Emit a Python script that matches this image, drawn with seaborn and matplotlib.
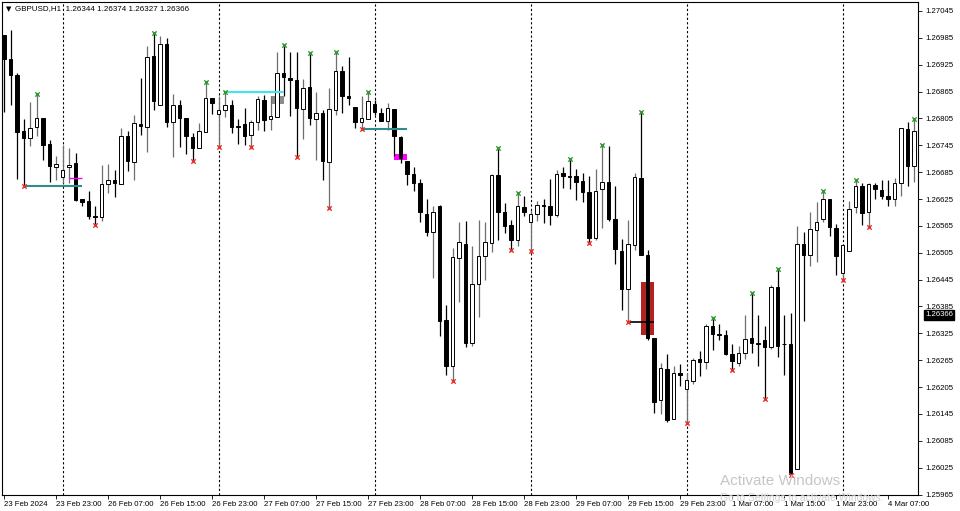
import numpy as np
import pandas as pd
import matplotlib.pyplot as plt
import seaborn as sns

# GBPUSD H1 candles (bar 0 = 23 Feb 15:00)
opens = [
    1.26991, 1.26937, 1.26902, 1.26776, 1.26762, 1.26786, 1.26807, 1.26748, 1.26696, 1.26675,
    1.26696, 1.26705, 1.26626, 1.26620, 1.26588, 1.26585, 1.26659, 1.26668, 1.26659, 1.26766,
    1.26707, 1.26793, 1.26785, 1.26945, 1.26835, 1.26971, 1.26798, 1.26835, 1.26806, 1.26763,
    1.26739, 1.26774, 1.26850, 1.26815, 1.26823, 1.26834, 1.26789, 1.26792, 1.26767, 1.26797,
    1.26847, 1.26803, 1.26809, 1.26906, 1.26895, 1.26890, 1.26826, 1.26875, 1.26803, 1.26817,
    1.26707, 1.26824, 1.26912, 1.26854, 1.26830, 1.26797, 1.26804, 1.26838, 1.26817, 1.26800,
    1.26826, 1.26764, 1.26709, 1.26681, 1.26661, 1.26592, 1.26551, 1.26609, 1.26354, 1.26252,
    1.26494, 1.26525, 1.26304, 1.26436, 1.26497, 1.26527, 1.26679, 1.26596, 1.26568, 1.26533,
    1.26607, 1.26573, 1.26592, 1.26612, 1.26609, 1.26590, 1.26683, 1.26676, 1.26676, 1.26666,
    1.26640, 1.26537, 1.26647, 1.26663, 1.26580, 1.26508, 1.26424, 1.26523, 1.26672, 1.26501,
    1.26315, 1.26176, 1.26246, 1.26134, 1.26237, 1.26201, 1.26218, 1.26267, 1.26261, 1.26342,
    1.26324, 1.26322, 1.26280, 1.26259, 1.26282, 1.26315, 1.26304, 1.26311, 1.26295, 1.26428,
    1.26302, 1.26302, 1.26023, 1.26525, 1.26499, 1.26555, 1.26580, 1.26624, 1.26560, 1.26459,
    1.26510, 1.26607, 1.26655, 1.26595, 1.26657, 1.26646, 1.26632, 1.26624, 1.26661, 1.26781,
    1.26698]
highs = [
    1.26991, 1.27003, 1.26907, 1.26804, 1.26842, 1.26860, 1.26807, 1.26756, 1.26720, 1.26746,
    1.26739, 1.26728, 1.26626, 1.26642, 1.26609, 1.26700, 1.26704, 1.26690, 1.26783, 1.26776,
    1.26813, 1.26895, 1.26967, 1.26995, 1.26990, 1.26984, 1.26860, 1.26847, 1.26806, 1.26772,
    1.26795, 1.26886, 1.26850, 1.26856, 1.26864, 1.26846, 1.26803, 1.26828, 1.26802, 1.26855,
    1.26858, 1.26854, 1.26954, 1.26968, 1.26953, 1.26953, 1.26893, 1.26951, 1.26865, 1.26824,
    1.26873, 1.26953, 1.26921, 1.26942, 1.26830, 1.26854, 1.26864, 1.26847, 1.26828, 1.26839,
    1.26826, 1.26765, 1.26709, 1.26696, 1.26670, 1.26624, 1.26609, 1.26612, 1.26389, 1.26516,
    1.26573, 1.26577, 1.26521, 1.26579, 1.26573, 1.26681, 1.26739, 1.26616, 1.26579, 1.26638,
    1.26631, 1.26601, 1.26620, 1.26624, 1.26670, 1.26690, 1.26696, 1.26714, 1.26692, 1.26683,
    1.26677, 1.26692, 1.26746, 1.26744, 1.26653, 1.26536, 1.26579, 1.26683, 1.26820, 1.26512,
    1.26315, 1.26259, 1.26278, 1.26252, 1.26256, 1.26237, 1.26271, 1.26285, 1.26345, 1.26360,
    1.26347, 1.26332, 1.26302, 1.26296, 1.26367, 1.26415, 1.26367, 1.26342, 1.26434, 1.26469,
    1.26365, 1.26371, 1.26564, 1.26551, 1.26597, 1.26618, 1.26644, 1.26625, 1.26570, 1.26522,
    1.26620, 1.26668, 1.26661, 1.26661, 1.26661, 1.26668, 1.26668, 1.26672, 1.26783, 1.26796,
    1.26803]
lows = [
    1.26820, 1.26835, 1.26670, 1.26655, 1.26744, 1.26765, 1.26713, 1.26662, 1.26668, 1.26661,
    1.26661, 1.26620, 1.26609, 1.26580, 1.26568, 1.26575, 1.26638, 1.26629, 1.26659, 1.26688,
    1.26668, 1.26768, 1.26731, 1.26824, 1.26835, 1.26786, 1.26719, 1.26742, 1.26726, 1.26710,
    1.26739, 1.26774, 1.26815, 1.26741, 1.26808, 1.26772, 1.26748, 1.26746, 1.26742, 1.26780,
    1.26778, 1.26780, 1.26809, 1.26854, 1.26811, 1.26718, 1.26759, 1.26791, 1.26713, 1.26668,
    1.26605, 1.26813, 1.26817, 1.26835, 1.26783, 1.26781, 1.26804, 1.26813, 1.26800, 1.26780,
    1.26720, 1.26706, 1.26657, 1.26642, 1.26573, 1.26542, 1.26449, 1.26319, 1.26233, 1.26218,
    1.26395, 1.26295, 1.26296, 1.26362, 1.26445, 1.26506, 1.26534, 1.26549, 1.26512, 1.26519,
    1.26588, 1.26510, 1.26575, 1.26572, 1.26566, 1.26585, 1.26650, 1.26647, 1.26622, 1.26618,
    1.26527, 1.26534, 1.26560, 1.26575, 1.26479, 1.26377, 1.26351, 1.26512, 1.26501, 1.26311,
    1.26148, 1.26144, 1.26127, 1.26134, 1.26207, 1.26124, 1.26212, 1.26229, 1.26246, 1.26287,
    1.26310, 1.26276, 1.26244, 1.26253, 1.26268, 1.26282, 1.26252, 1.26178, 1.26289, 1.26273,
    1.26233, 1.26008, 1.26023, 1.26352, 1.26475, 1.26484, 1.26573, 1.26542, 1.26456, 1.26445,
    1.26510, 1.26594, 1.26566, 1.26562, 1.26624, 1.26624, 1.26610, 1.26609, 1.26631, 1.26655,
    1.26662]
closes = [
    1.26937, 1.26902, 1.26775, 1.26762, 1.26784, 1.26806, 1.26746, 1.26698, 1.26704, 1.26690,
    1.26702, 1.26623, 1.26618, 1.26586, 1.26585, 1.26659, 1.26667, 1.26661, 1.26766, 1.26709,
    1.26795, 1.26787, 1.26942, 1.26843, 1.26971, 1.26798, 1.26834, 1.26806, 1.26765, 1.26739,
    1.26776, 1.26850, 1.26840, 1.26824, 1.26835, 1.26786, 1.26785, 1.26766, 1.26797, 1.26848,
    1.26802, 1.26811, 1.26906, 1.26897, 1.26891, 1.26829, 1.26873, 1.26806, 1.26817, 1.26709,
    1.26826, 1.26912, 1.26856, 1.26850, 1.26797, 1.26806, 1.26844, 1.26820, 1.26800, 1.26828,
    1.26765, 1.26716, 1.26681, 1.26661, 1.26595, 1.26551, 1.26597, 1.26352, 1.26252, 1.26495,
    1.26528, 1.26304, 1.26436, 1.26497, 1.26528, 1.26679, 1.26597, 1.26564, 1.26533, 1.26609,
    1.26595, 1.26592, 1.26612, 1.26609, 1.26590, 1.26681, 1.26677, 1.26674, 1.26664, 1.26640,
    1.26537, 1.26644, 1.26663, 1.26580, 1.26514, 1.26424, 1.26525, 1.26675, 1.26501, 1.26315,
    1.26171, 1.26248, 1.26131, 1.26237, 1.26231, 1.26220, 1.26265, 1.26261, 1.26342, 1.26324,
    1.26322, 1.26280, 1.26263, 1.26282, 1.26313, 1.26304, 1.26302, 1.26295, 1.26428, 1.26296,
    1.26301, 1.26010, 1.26525, 1.26499, 1.26558, 1.26574, 1.26624, 1.26562, 1.26497, 1.26522,
    1.26603, 1.26653, 1.26594, 1.26659, 1.26647, 1.26632, 1.26624, 1.26661, 1.26783, 1.26698,
    1.26776]

# fractal markers (bar numbers)
fractal_up_bars = [5, 23, 31, 34, 43, 47, 51, 56, 76, 79, 87, 92, 98, 109, 115, 119, 126, 131, 140]
fractal_down_bars = [3, 14, 29, 33, 38, 45, 50, 55, 69, 78, 81, 90, 96, 105, 112, 117, 121, 129, 133]

# day separators (00:00 bars) and time axis labels
separator_bars = [9, 33, 57, 81, 105, 129]
time_labels = ['23 Feb 2024', '23 Feb 23:00', '26 Feb 07:00', '26 Feb 15:00', '26 Feb 23:00',
               '27 Feb 07:00', '27 Feb 15:00', '27 Feb 23:00', '28 Feb 07:00', '28 Feb 15:00',
               '28 Feb 23:00', '29 Feb 07:00', '29 Feb 15:00', '29 Feb 23:00', '1 Mar 07:00',
               '1 Mar 15:00', '1 Mar 23:00', '4 Mar 07:00']
price_ticks = [1.27045, 1.26985, 1.26925, 1.26865, 1.26805, 1.26745, 1.26685, 1.26625, 1.26565,
               1.26505, 1.26445, 1.26385, 1.26325, 1.26265, 1.26205, 1.26145, 1.26085, 1.26025,
               1.25965]
last_price = 1.26366

# indicator objects: (first bar, last bar, price) / (first bar, last bar, low, high)
teal_levels = [(3, 12, 1.26655), (55, 62, 1.26781)]
cyan_levels = [(34, 43, 1.26863)]
magenta_levels = [(10, 12, 1.26671)]
black_levels = [(96, 100, 1.26351)]
gray_boxes = [(41, 43, 1.26837, 1.26856)]
magenta_boxes = [(60, 62, 1.26713, 1.26725)]
red_boxes = [(98, 100, 1.26322, 1.26439)]

df = pd.DataFrame({'open': opens, 'high': highs, 'low': lows, 'close': closes})
df['bar'] = np.arange(len(df))
df['bull'] = df['close'] >= df['open']

sns.set_theme(style='white')
plt.rcParams['font.family'] = ['Liberation Sans', 'DejaVu Sans']

fig = plt.figure(figsize=(9.6, 5.11), dpi=100)
ax = fig.add_axes([2 / 960, 16 / 511, 916 / 960, 493 / 511])

# boxes behind the candles
for b0, b1, lo, hi in red_boxes:
    ax.fill_between([b0, b1], lo, hi, color='#b22222', lw=0, zorder=1)
for b0, b1, lo, hi in gray_boxes:
    ax.fill_between([b0, b1], lo, hi, color='#8c8c8c', lw=0, zorder=1)
for b0, b1, lo, hi in magenta_boxes:
    ax.fill_between([b0, b1], lo, hi, color='#ff00ff', lw=0, zorder=1)

for b in separator_bars:
    ax.axvline(b, color='black', lw=0.8, ls=(0, (2, 2)), zorder=0.5)

bull = df[df['bull']]
bear = df[~df['bull']]
ax.vlines(bull['bar'], bull['low'], bull['high'], color='#6e6e6e', lw=0.9, zorder=2)
ax.vlines(bear['bar'], bear['low'], bear['high'], color='black', lw=0.9, zorder=2)
ax.bar(bull['bar'], bull['close'] - bull['open'], bottom=bull['open'], width=0.55,
       color='white', edgecolor='black', linewidth=0.7, zorder=3)
ax.bar(bear['bar'], bear['open'] - bear['close'], bottom=bear['close'], width=0.55,
       color='black', edgecolor='black', linewidth=0.7, zorder=3)

for b0, b1, p in teal_levels:
    ax.hlines(p, b0, b1, color='#2f8c8c', lw=1.5, zorder=4)
for b0, b1, p in cyan_levels:
    ax.hlines(p, b0, b1, color='#3ee6f0', lw=1.5, zorder=4)
for b0, b1, p in magenta_levels:
    ax.hlines(p, b0, b1, color='#ff00ff', lw=1.0, zorder=4)
for b0, b1, p in black_levels:
    ax.hlines(p, b0, b1, color='black', lw=1.2, zorder=4)

ups = df.loc[fractal_up_bars]
downs = df.loc[fractal_down_bars]
sns.scatterplot(x=ups['bar'], y=ups['high'], marker='x', color='#2e9a2e', s=10,
                linewidth=1.0, ax=ax, zorder=5)
sns.scatterplot(x=downs['bar'], y=downs['low'], marker='x', color='#e8302a', s=10,
                linewidth=1.0, ax=ax, zorder=5)

ax.set_xlim(-0.31, 140.6)
ax.set_ylim(1.25964, 1.27065)
ax.set_xlabel('')
ax.set_ylabel('')

ax.set_xticks(list(range(0, 137, 8)))
ax.set_xticklabels(time_labels, ha='left')
ax.yaxis.tick_right()
ax.set_yticks(price_ticks)
ax.set_yticklabels([f'{p:.5f}' for p in price_ticks])
ax.tick_params(axis='x', bottom=True, length=3, width=0.6, pad=1.5, labelsize=5.6, colors='black')
ax.tick_params(axis='y', right=True, left=False, length=3, width=0.6, pad=2, labelsize=5.6,
               colors='black')
for s in ax.spines.values():
    s.set_color('black')
    s.set_linewidth(0.8)

ax.annotate(f'{last_price:.5f}', xy=(1.0, last_price), xycoords=('axes fraction', 'data'),
            xytext=(5, 0), textcoords='offset points', va='center', ha='left',
            fontsize=5.6, color='white',
            bbox=dict(boxstyle='square,pad=0.15', fc='black', ec='black'))

ax.text(0.004, 0.986, '\u25bc', transform=ax.transAxes, fontsize=5, va='center',
        ha='left', color='black', family=['DejaVu Sans'])
ax.text(0.014, 0.986, 'GBPUSD,H1  1.26344 1.26374 1.26327 1.26366', transform=ax.transAxes,
        fontsize=5.8, va='center', ha='left', color='black')

fig.text(720 / 960, 1 - 481 / 511, 'Activate Windows', fontsize=11, color='#c6c6c6', va='center')
fig.text(720 / 960, 1 - 498 / 511, 'Go to Settings to activate Windows.', fontsize=7.5,
         color='#d0d0d0', va='center')

plt.savefig('out.png', dpi=100)
